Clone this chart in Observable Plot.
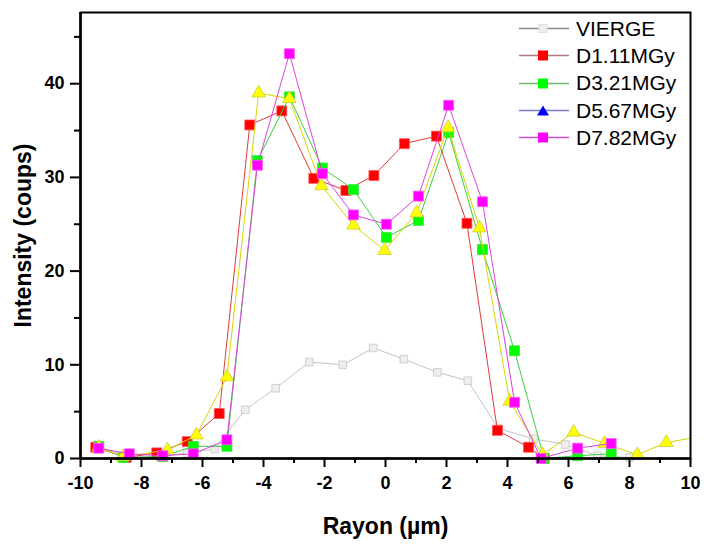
<!DOCTYPE html>
<html><head><meta charset="utf-8">
<script src="https://cdn.jsdelivr.net/npm/d3@7"></script>
<script src="https://cdn.jsdelivr.net/npm/@observablehq/plot@0.6"></script>
<style>
body{margin:0;background:#fff;font-family:"Liberation Sans",Arial,sans-serif;}
#wrap{position:relative;width:707px;height:548px;}
#legend{position:absolute;left:518px;top:15px;}
.li{display:flex;align-items:center;height:27.3px;font-size:21px;color:#000;}
.li svg{margin-right:6px;}
</style></head><body>
<div id="wrap"><div id="legend"></div></div>
<script>
const seriesNames = ["VIERGE","D1.11MGy","D3.21MGy","D5.67MGy","D7.82MGy"];
const xTicks = [-10,-8,-6,-4,-2,0,2,4,6,8,10];
const xMinor = [-9,-7,-5,-3,-1,1,3,5,7,9];
const yTicks = [0,10,20,30,40];
const yMinor = [5,15,25,35,45];

const viergeX = [-9.4,-8.4,-7.4,-6.5,-5.6,-4.6,-3.6,-2.5,-1.4,-0.4,0.6,1.7,2.7,3.7,4.85,5.9,6.95,8.0];
const viergeY = [1.1,0.3,0.2,0.6,1.0,5.2,7.5,10.3,10.0,11.8,10.6,9.2,8.3,3.2,2.1,1.5,0.3,0.1];
const d111X = [-9.5,-8.5,-7.5,-6.5,-5.45,-4.45,-3.4,-2.35,-1.3,-0.38,0.62,1.67,2.67,3.67,4.69,5.2];
const d111Y = [1.2,0.1,0.6,1.8,4.8,35.6,37.1,29.9,28.6,30.2,33.6,34.4,25.1,3.0,1.2,0];
const d321X = [-9.4,-8.6,-7.3,-6.3,-5.2,-4.2,-3.15,-2.07,-1.05,0.03,1.08,2.07,3.18,4.23,5.2,6.3,7.4];
const d321Y = [1.3,0.1,0.2,1.3,1.3,31.8,38.6,31.0,28.7,23.6,25.4,34.8,22.3,11.5,0,0.3,0.5];
const d567X = [-9.4,-8.6,-7.15,-6.2,-5.2,-4.16,-3.15,-2.1,-1.05,-0.03,1.02,2.05,3.08,4.07,5.15,6.17,7.18,8.26,9.21,10.25];
const d567Y = [1.2,0.2,0.9,2.5,8.7,39.0,38.4,29.1,24.9,22.2,26.2,35.3,24.6,6.1,0.4,2.8,1.6,0.4,1.7,2.3];
const d782X = [-9.4,-8.4,-7.3,-6.3,-5.2,-4.2,-3.15,-2.07,-1.05,0.03,1.08,2.07,3.18,4.23,5.1,6.3,7.4];
const d782Y = [1.1,0.5,0.3,0.5,2.0,31.3,43.2,30.4,26.0,25.0,28.0,37.7,27.4,6.0,0,1.1,1.6];

const styles = [
  {line:"#c4c4c4", fill:"#eeeeee", stroke:"#c8c8c8", symbol:"square", r:4.3, legLine:"#8a8a8a"},
  {line:"#e23a3a", fill:"#ff0000", stroke:"#ff5050", symbol:"square", r:5.6, legLine:"#b07a7a"},
  {line:"#3ad03a", fill:"#00ff00", stroke:"#40e040", symbol:"square", r:5.6, legLine:"#6cb86c"},
  {line:"#d6d600", fill:"#ffff00", stroke:"#cccc33", symbol:"triangle", r:5.0, legLine:"#7a7ad0", legFill:"#0000ff"},
  {line:"#e040e0", fill:"#ff00ff", stroke:"#ff55ff", symbol:"square", r:5.6, legLine:"#d050d0"}
];
const xs = [viergeX,d111X,d321X,d567X,d782X];
const ys = [viergeY,d111Y,d321Y,d567Y,d782Y];

const marks = [];
seriesNames.forEach((name,i)=>{
  const data = xs[i].map((x,j)=>({x, y: ys[i][j]}));
  const s = styles[i];
  marks.push(Plot.line(data,{x:"x",y:"y",stroke:s.line,strokeWidth:1,clip:true}));
  marks.push(Plot.dot(data.filter(d=>d.x<=10),{x:"x",y:"y",symbol:s.symbol,r:s.r,fill:s.fill,stroke:s.stroke,strokeWidth:0.8}));
});

const font = "'Liberation Sans', Arial, sans-serif";
marks.push(
  Plot.frame({stroke:"#000",strokeWidth:2}),
  Plot.ruleY([0],{stroke:"#000",strokeWidth:2.5}),
  Plot.ruleX([-10],{stroke:"#000",strokeWidth:2.5}),
  Plot.axisX(xTicks,{tickSize:9,tickPadding:9,fontSize:18,fontWeight:"bold",strokeWidth:2,label:null,tickFormat:d=>String(d)}),
  Plot.axisX(xMinor,{tickSize:5,strokeWidth:2,label:null,tickFormat:()=>""}),
  Plot.axisY(yTicks,{tickSize:10,tickPadding:6,fontSize:18,fontWeight:"bold",strokeWidth:2,label:null}),
  Plot.axisY(yMinor,{tickSize:6,strokeWidth:2,label:null,tickFormat:()=>""}),
  Plot.text(["Intensity (coups)"],{frameAnchor:"left",dx:-57,rotate:-90,textAnchor:"middle",lineAnchor:"middle",fontSize:23,fontWeight:"bold",fill:"#000"}),
  Plot.text(["Rayon (\u00b5m)"],{frameAnchor:"bottom",dy:68,textAnchor:"middle",lineAnchor:"middle",fontSize:23,fontWeight:"bold",fill:"#000"})
);

const chart = Plot.plot({
  width:707, height:548,
  marginLeft:80, marginRight:17, marginTop:12, marginBottom:90,
  x:{domain:[-10,10]},
  y:{domain:[0,47.6]},
  style:{fontFamily:font, color:"#000", background:"#fff"},
  marks
});
document.getElementById("wrap").prepend(chart);

const leg = document.getElementById("legend");
seriesNames.forEach((name,i)=>{
  const s = styles[i];
  const div = document.createElement("div");
  div.className="li";
  let marker;
  if (s.symbol==="triangle") {
    marker = `<polygon points="25,4.5 31,14.5 19,14.5" fill="${s.legFill}"/>`;
  } else {
    const sz = i===0?8:10;
    marker = `<rect x="${25-sz/2}" y="${9.5-sz/2}" width="${sz}" height="${sz}" fill="${s.fill}" stroke="${i===0?'#e0e0e0':'none'}"/>`;
  }
  div.innerHTML = `<svg width="52" height="19"><line x1="1" x2="51" y1="9.5" y2="9.5" stroke="${s.legLine}" stroke-width="1.5"/>${marker}</svg><span>${name}</span>`;
  leg.appendChild(div);
});
</script>
</body></html>
